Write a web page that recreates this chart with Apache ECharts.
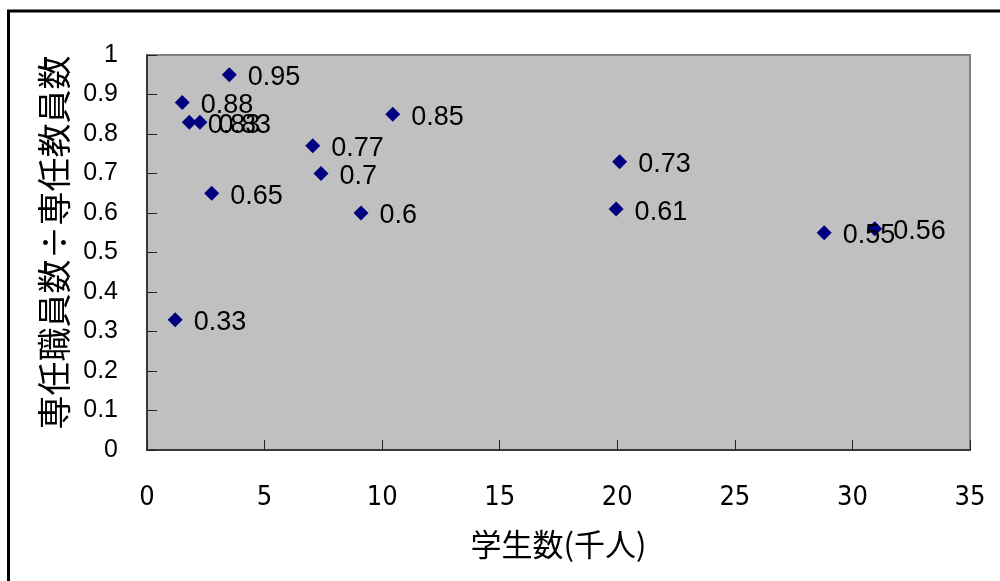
<!DOCTYPE html>
<html>
<head>
<meta charset="utf-8">
<script src="https://cdn.jsdelivr.net/npm/echarts@6/dist/echarts.min.js"></script>
<style>
  html, body { margin: 0; padding: 0; background: #fff; }
  #chart { width: 1000px; height: 581px; }
</style>
</head>
<body>
<div id="chart"></div>
<script>
// Students (thousands) and staff-to-faculty ratio for each institution
const students = [3.5, 1.5, 1.8, 2.25, 2.75, 1.2, 7.05, 7.4, 9.1, 10.45, 20.1, 19.95, 28.8, 30.95];
const ratios   = [0.95, 0.88, 0.83, 0.83, 0.65, 0.33, 0.77, 0.7, 0.6, 0.85, 0.73, 0.61, 0.55, 0.56];

const xTitle = '学生数(千人)';
const yTitle = '専任職員数÷専任教員数';

const points = students.map((s, i) => [s, ratios[i]]);

const chart = echarts.init(document.getElementById('chart'), null, { renderer: 'canvas' });

chart.setOption({
  animation: false,
  backgroundColor: '#ffffff',
  grid: {
    left: 147, right: 30, top: 55, bottom: 131,
    show: true,
    backgroundColor: '#C0C0C0',
    borderColor: '#808080',
    borderWidth: 2
  },
  graphic: [{
    type: 'rect',
    shape: { x: 8.5, y: 11, width: 1100, height: 700 },
    style: { fill: 'none', stroke: '#000', lineWidth: 3 },
    silent: true
  }],
  xAxis: {
    type: 'value',
    min: 0, max: 35, interval: 5,
    name: xTitle,
    nameLocation: 'middle',
    nameGap: 79,
    nameTextStyle: { fontFamily: 'Noto Sans CJK JP', fontSize: 31, color: '#000' },
    axisLine: { show: true, lineStyle: { color: '#222', width: 1.5 } },
    axisTick: { show: true, inside: true, length: 10, lineStyle: { color: '#222', width: 1 } },
    axisLabel: { margin: 34, fontFamily: 'DejaVu Sans Condensed', fontSize: 27, color: '#000' },
    splitLine: { show: false }
  },
  yAxis: {
    type: 'value',
    min: 0, max: 1, interval: 0.1,
    name: yTitle,
    nameLocation: 'middle',
    nameRotate: 90,
    nameGap: 76,
    nameTextStyle: { fontFamily: 'Noto Sans CJK JP', fontSize: 34, color: '#000', padding: [0, 0, 0, 20] },
    axisLine: { show: true, lineStyle: { color: '#222', width: 1.5 } },
    axisTick: { show: true, inside: true, length: 10, lineStyle: { color: '#222', width: 1 } },
    axisLabel: { margin: 29, fontFamily: 'Liberation Sans', fontSize: 25, color: '#000' },
    splitLine: { show: false }
  },
  series: [{
    type: 'scatter',
    data: points,
    symbol: 'diamond',
    symbolSize: 15,
    itemStyle: { color: '#000080', opacity: 1 },
    label: {
      show: true,
      position: 'right',
      distance: 11,
      offset: [0, 3],
      fontFamily: 'Liberation Sans',
      fontSize: 27,
      color: '#000',
      formatter: p => String(p.value[1])
    }
  }]
});
</script>
</body>
</html>
